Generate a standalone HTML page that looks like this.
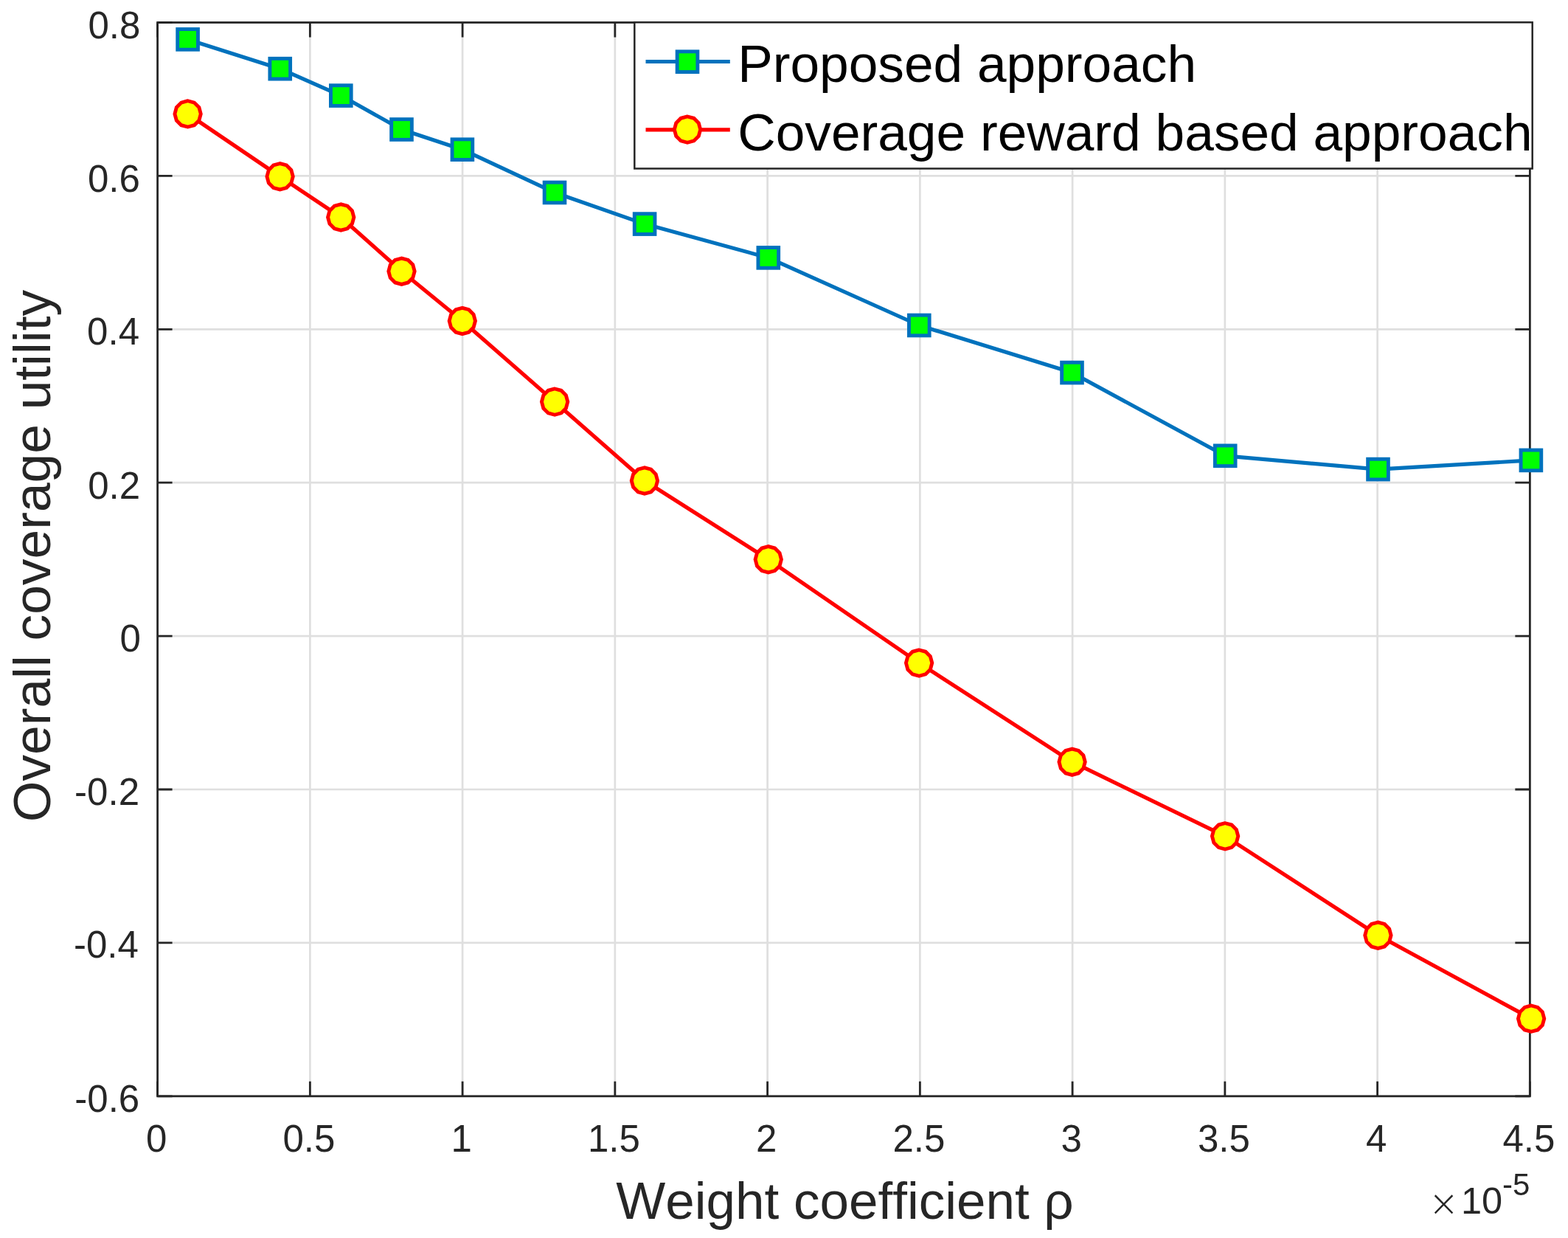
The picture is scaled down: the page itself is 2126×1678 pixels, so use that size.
<!DOCTYPE html>
<html><head><meta charset="utf-8"><title>Overall coverage utility vs weight coefficient</title>
<style>
html,body{margin:0;padding:0;background:#fff;}
body{width:2126px;height:1678px;overflow:hidden;}
svg{display:block;}
text{font-family:"Liberation Sans",Arial,Helvetica,sans-serif;font-variant-ligatures:none;font-kerning:none;}
.tk{font-size:51px;fill:#262626;}
.lab{font-size:71px;fill:#262626;}
.leg{font-size:71.25px;fill:#000;}
</style></head><body>
<svg width="2126" height="1678" viewBox="0 0 2126 1678">
<rect width="2126" height="1678" fill="#fff"/>
<path d="M420.35 30.5V1485.8M627.1 30.5V1485.8M833.85 30.5V1485.8M1040.6 30.5V1485.8M1247.35 30.5V1485.8M1454.1 30.5V1485.8M1660.85 30.5V1485.8M1867.6 30.5V1485.8M213.6 1277.9H2074.35M213.6 1070H2074.35M213.6 862.1H2074.35M213.6 654.2H2074.35M213.6 446.3H2074.35M213.6 238.4H2074.35" stroke="#dfdfdf" stroke-width="2.7" fill="none"/>
<path d="M213.6 1485.8v-20M213.6 30.5v20M420.35 1485.8v-20M420.35 30.5v20M627.1 1485.8v-20M627.1 30.5v20M833.85 1485.8v-20M833.85 30.5v20M1040.6 1485.8v-20M1040.6 30.5v20M1247.35 1485.8v-20M1247.35 30.5v20M1454.1 1485.8v-20M1454.1 30.5v20M1660.85 1485.8v-20M1660.85 30.5v20M1867.6 1485.8v-20M1867.6 30.5v20M2074.35 1485.8v-20M2074.35 30.5v20M213.6 1485.8h20M2074.35 1485.8h-20M213.6 1277.9h20M2074.35 1277.9h-20M213.6 1070h20M2074.35 1070h-20M213.6 862.1h20M2074.35 862.1h-20M213.6 654.2h20M2074.35 654.2h-20M213.6 446.3h20M2074.35 446.3h-20M213.6 238.4h20M2074.35 238.4h-20M213.6 30.5h20M2074.35 30.5h-20" stroke="#262626" stroke-width="2.8" fill="none"/>
<rect x="213.6" y="30.5" width="1860.75" height="1455.3" fill="none" stroke="#262626" stroke-width="2.8" stroke-linejoin="miter"/>
<text class="tk" x="189.2" y="1506.5" text-anchor="end">-0.6</text>
<text class="tk" x="187.9" y="1298.06" text-anchor="end">-0.4</text>
<text class="tk" x="189.0" y="1090.5" text-anchor="end">-0.2</text>
<text class="tk" x="190.8" y="883.4" text-anchor="end">0</text>
<text class="tk" x="190.1" y="675.5" text-anchor="end">0.2</text>
<text class="tk" x="189.0" y="467.4" text-anchor="end">0.4</text>
<text class="tk" x="189.9" y="259.66" text-anchor="end">0.6</text>
<text class="tk" x="190.3" y="51.9" text-anchor="end">0.8</text>
<text class="tk" x="212.2" y="1560.7" text-anchor="middle">0</text>
<text class="tk" x="418.95" y="1560.7" text-anchor="middle">0.5</text>
<text class="tk" x="625.7" y="1560.7" text-anchor="middle">1</text>
<text class="tk" x="832.45" y="1560.7" text-anchor="middle">1.5</text>
<text class="tk" x="1039.2" y="1560.7" text-anchor="middle">2</text>
<text class="tk" x="1245.95" y="1560.7" text-anchor="middle">2.5</text>
<text class="tk" x="1452.7" y="1560.7" text-anchor="middle">3</text>
<text class="tk" x="1659.45" y="1560.7" text-anchor="middle">3.5</text>
<text class="tk" x="1866.2" y="1560.7" text-anchor="middle">4</text>
<text class="tk" x="2072.95" y="1560.7" text-anchor="middle">4.5</text>
<path d="M254.6 53.4 L379.75 93.2 L462.3 129.6 L544.5 175.5 L626.9 202.7 L752 261 L874.1 303.6 L1041.8 349.4 L1246.3 441 L1453.5 505.1 L1661.2 617.8 L1868.5 636.1 L2075.9 623.9" fill="none" stroke="#0072bd" stroke-width="5.2" stroke-linejoin="round"/><g fill="#00ff00" stroke="#0072bd" stroke-width="4.9" stroke-linejoin="miter"><rect x="240.75" y="39.55" width="27.7" height="27.7"/><rect x="365.9" y="79.35" width="27.7" height="27.7"/><rect x="448.45" y="115.75" width="27.7" height="27.7"/><rect x="530.65" y="161.65" width="27.7" height="27.7"/><rect x="613.05" y="188.85" width="27.7" height="27.7"/><rect x="738.15" y="247.15" width="27.7" height="27.7"/><rect x="860.25" y="289.75" width="27.7" height="27.7"/><rect x="1027.95" y="335.55" width="27.7" height="27.7"/><rect x="1232.45" y="427.15" width="27.7" height="27.7"/><rect x="1439.65" y="491.25" width="27.7" height="27.7"/><rect x="1647.35" y="603.95" width="27.7" height="27.7"/><rect x="1854.65" y="622.25" width="27.7" height="27.7"/><rect x="2062.05" y="610.05" width="27.7" height="27.7"/></g>
<path d="M254.6 154.4 L379.6 239.25 L462.2 294.5 L544.5 367.7 L626.8 435 L752.1 544.6 L873.9 651.5 L1041.75 758.3 L1246.1 898.6 L1453.6 1032.7 L1661.1 1133.35 L1868.4 1267.75 L2076.1 1380.65" fill="none" stroke="#ff0000" stroke-width="5.2" stroke-linejoin="round"/><g fill="#ffff00" stroke="#ff0000" stroke-width="4.9" stroke-linejoin="miter"><polygon points="254.6,136.74 245.77,139.11 239.31,145.57 236.94,154.4 239.31,163.23 245.77,169.69 254.6,172.06 263.43,169.69 269.89,163.23 272.26,154.4 269.89,145.57 263.43,139.11"/><polygon points="379.6,221.59 370.77,223.96 364.31,230.42 361.94,239.25 364.31,248.08 370.77,254.54 379.6,256.91 388.43,254.54 394.89,248.08 397.26,239.25 394.89,230.42 388.43,223.96"/><polygon points="462.2,276.84 453.37,279.21 446.91,285.67 444.54,294.5 446.91,303.33 453.37,309.79 462.2,312.16 471.03,309.79 477.49,303.33 479.86,294.5 477.49,285.67 471.03,279.21"/><polygon points="544.5,350.04 535.67,352.41 529.21,358.87 526.84,367.7 529.21,376.53 535.67,382.99 544.5,385.36 553.33,382.99 559.79,376.53 562.16,367.7 559.79,358.87 553.33,352.41"/><polygon points="626.8,417.34 617.97,419.71 611.51,426.17 609.14,435 611.51,443.83 617.97,450.29 626.8,452.66 635.63,450.29 642.09,443.83 644.46,435 642.09,426.17 635.63,419.71"/><polygon points="752.1,526.94 743.27,529.31 736.81,535.77 734.44,544.6 736.81,553.43 743.27,559.89 752.1,562.26 760.93,559.89 767.39,553.43 769.76,544.6 767.39,535.77 760.93,529.31"/><polygon points="873.9,633.84 865.07,636.21 858.61,642.67 856.24,651.5 858.61,660.33 865.07,666.79 873.9,669.16 882.73,666.79 889.19,660.33 891.56,651.5 889.19,642.67 882.73,636.21"/><polygon points="1041.75,740.64 1032.92,743.01 1026.46,749.47 1024.09,758.3 1026.46,767.13 1032.92,773.59 1041.75,775.96 1050.58,773.59 1057.04,767.13 1059.41,758.3 1057.04,749.47 1050.58,743.01"/><polygon points="1246.1,880.94 1237.27,883.31 1230.81,889.77 1228.44,898.6 1230.81,907.43 1237.27,913.89 1246.1,916.26 1254.93,913.89 1261.39,907.43 1263.76,898.6 1261.39,889.77 1254.93,883.31"/><polygon points="1453.6,1015.04 1444.77,1017.41 1438.31,1023.87 1435.94,1032.7 1438.31,1041.53 1444.77,1047.99 1453.6,1050.36 1462.43,1047.99 1468.89,1041.53 1471.26,1032.7 1468.89,1023.87 1462.43,1017.41"/><polygon points="1661.1,1115.69 1652.27,1118.06 1645.81,1124.52 1643.44,1133.35 1645.81,1142.18 1652.27,1148.64 1661.1,1151.01 1669.93,1148.64 1676.39,1142.18 1678.76,1133.35 1676.39,1124.52 1669.93,1118.06"/><polygon points="1868.4,1250.09 1859.57,1252.46 1853.11,1258.92 1850.74,1267.75 1853.11,1276.58 1859.57,1283.04 1868.4,1285.41 1877.23,1283.04 1883.69,1276.58 1886.06,1267.75 1883.69,1258.92 1877.23,1252.46"/><polygon points="2076.1,1362.99 2067.27,1365.36 2060.81,1371.82 2058.44,1380.65 2060.81,1389.48 2067.27,1395.94 2076.1,1398.31 2084.93,1395.94 2091.39,1389.48 2093.76,1380.65 2091.39,1371.82 2084.93,1365.36"/></g>
<text class="lab" x="1145.5" y="1652" text-anchor="middle">Weight coefficient ρ</text>
<text class="lab" transform="translate(67.7 753.5) rotate(-90)" x="0" y="0" text-anchor="middle" style="font-size:71.3px">Overall coverage utility</text>
<text x="1937" y="1648" style="font-family:'DejaVu Sans',sans-serif;font-weight:200;font-size:49px;fill:#262626">×</text>
<text class="tk" x="1981" y="1645.3" style="font-size:50.5px">10</text>
<text x="2037" y="1620.4" style="font-size:42px;fill:#262626">-5</text>
<rect x="860.3" y="30.3" width="1217.4" height="198.2" fill="#fff" stroke="#262626" stroke-width="2.5"/>
<path d="M875.5 83.5H989.8" stroke="#0072bd" stroke-width="5.2"/>
<g fill="#00ff00" stroke="#0072bd" stroke-width="4.9"><rect x="918.15" y="69.85" width="27.7" height="27.7"/></g>
<path d="M875.5 175.8H989.8" stroke="#ff0000" stroke-width="5.2"/>
<g fill="#ffff00" stroke="#ff0000" stroke-width="4.9"><polygon points="932,157.94 923.17,160.31 916.71,166.77 914.34,175.6 916.71,184.43 923.17,190.89 932,193.26 940.83,190.89 947.29,184.43 949.66,175.6 947.29,166.77 940.83,160.31"/></g>
<text class="leg" x="1000.2" y="111">Proposed approach</text>
<text class="leg" x="1000.2" y="203.8">Coverage reward based approach</text>
</svg></body></html>
